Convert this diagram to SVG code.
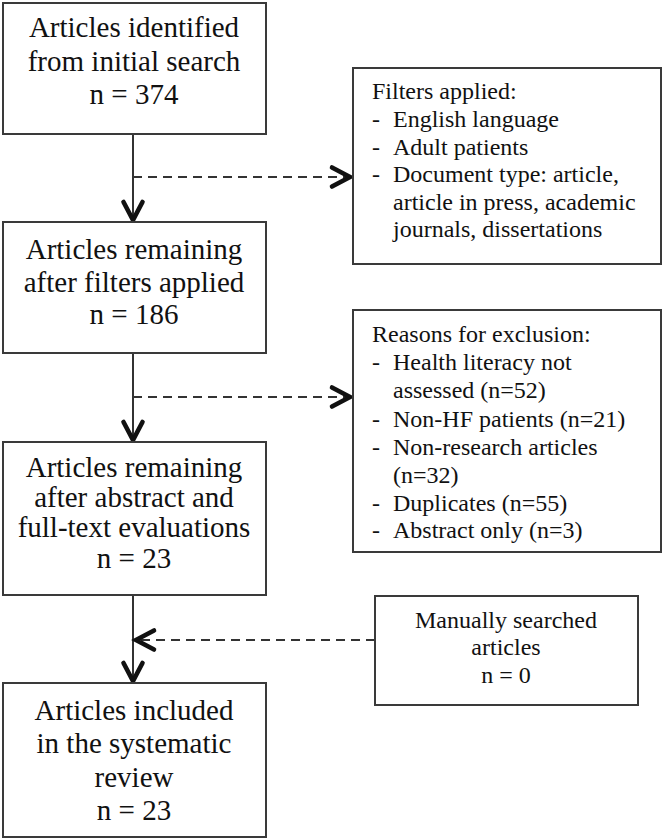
<svg xmlns="http://www.w3.org/2000/svg" width="663" height="839" viewBox="0 0 663 839">
<style>
.box{fill:#fff;stroke:#3a3a3a;stroke-width:2}
.t{font-family:"Liberation Serif","Times New Roman",serif;fill:#111}
.m{font-size:29px;text-anchor:middle}
.s{font-size:24px}
.ln{fill:none;stroke:#333;stroke-width:2}
.dash{stroke-dasharray:9 6;stroke-width:2.2}
</style>
<defs>
<marker id="chev" markerUnits="userSpaceOnUse" markerWidth="28" markerHeight="26" viewBox="0 0 28 26" refX="23" refY="13" orient="auto">
<path d="M4,3.5 L22,13 L4,22.5" fill="none" stroke="#111" stroke-width="4.6" stroke-linecap="round" stroke-linejoin="miter"/>
</marker>
</defs>
<rect width="663" height="839" fill="#fff"/>
<g id="connectors">
<line class="ln" x1="133" y1="134" x2="133" y2="221" marker-end="url(#chev)"/>
<line class="ln dash" x1="133" y1="177" x2="351" y2="177" marker-end="url(#chev)"/>
<line class="ln" x1="133" y1="353" x2="133" y2="441" marker-end="url(#chev)"/>
<line class="ln dash" x1="133" y1="397" x2="351" y2="397" marker-end="url(#chev)"/>
<line class="ln" x1="133" y1="595" x2="133" y2="682" marker-end="url(#chev)"/>
<line class="ln dash" x1="375" y1="640" x2="135" y2="640" marker-end="url(#chev)"/>
</g>
<g id="n1">
<rect class="box" x="3" y="3" width="263" height="131"/>
<text class="t m" x="134" y="37">Articles identified</text>
<text class="t m" x="134" y="71">from initial search</text>
<text class="t m" x="134" y="104">n = 374</text>
</g>
<g id="filters">
<rect class="box" x="353" y="68" width="308" height="196"/>
<text class="t s" x="372" y="99">Filters applied:</text>
<text class="t s" x="372" y="127">-</text><text class="t s" x="393" y="127">English language</text>
<text class="t s" x="372" y="155">-</text><text class="t s" x="393" y="155">Adult patients</text>
<text class="t s" x="372" y="182">-</text><text class="t s" x="393" y="182">Document type: article,</text>
<text class="t s" x="393" y="210">article in press, academic</text>
<text class="t s" x="393" y="237">journals, dissertations</text>
</g>
<g id="n2">
<rect class="box" x="3" y="222" width="263" height="131"/>
<text class="t m" x="134" y="259">Articles remaining</text>
<text class="t m" x="134" y="292">after filters applied</text>
<text class="t m" x="134" y="324">n = 186</text>
</g>
<g id="exclusion">
<rect class="box" x="353" y="310" width="308" height="242"/>
<text class="t s" x="372" y="342">Reasons for exclusion:</text>
<text class="t s" x="372" y="370">-</text><text class="t s" x="393" y="370">Health literacy not</text>
<text class="t s" x="393" y="398">assessed (n=52)</text>
<text class="t s" x="372" y="427">-</text><text class="t s" x="393" y="427">Non-HF patients (n=21)</text>
<text class="t s" x="372" y="455">-</text><text class="t s" x="393" y="455">Non-research articles</text>
<text class="t s" x="393" y="483">(n=32)</text>
<text class="t s" x="372" y="511">-</text><text class="t s" x="393" y="511">Duplicates (n=55)</text>
<text class="t s" x="372" y="538">-</text><text class="t s" x="393" y="538">Abstract only (n=3)</text>
</g>
<g id="n3">
<rect class="box" x="3" y="442" width="263" height="153"/>
<text class="t m" x="134" y="477">Articles remaining</text>
<text class="t m" x="134" y="507">after abstract and</text>
<text class="t m" x="134" y="537">full-text evaluations</text>
<text class="t m" x="134" y="568">n = 23</text>
</g>
<g id="manual">
<rect class="box" x="375" y="596" width="263" height="109"/>
<text class="t s" x="506" y="628" text-anchor="middle">Manually searched</text>
<text class="t s" x="506" y="655" text-anchor="middle">articles</text>
<text class="t s" x="506" y="683" text-anchor="middle">n = 0</text>
</g>
<g id="n4">
<rect class="box" x="3" y="683" width="263" height="154"/>
<text class="t m" x="134" y="720">Articles included</text>
<text class="t m" x="134" y="753">in the systematic</text>
<text class="t m" x="134" y="787">review</text>
<text class="t m" x="134" y="820">n = 23</text>
</g>
</svg>
